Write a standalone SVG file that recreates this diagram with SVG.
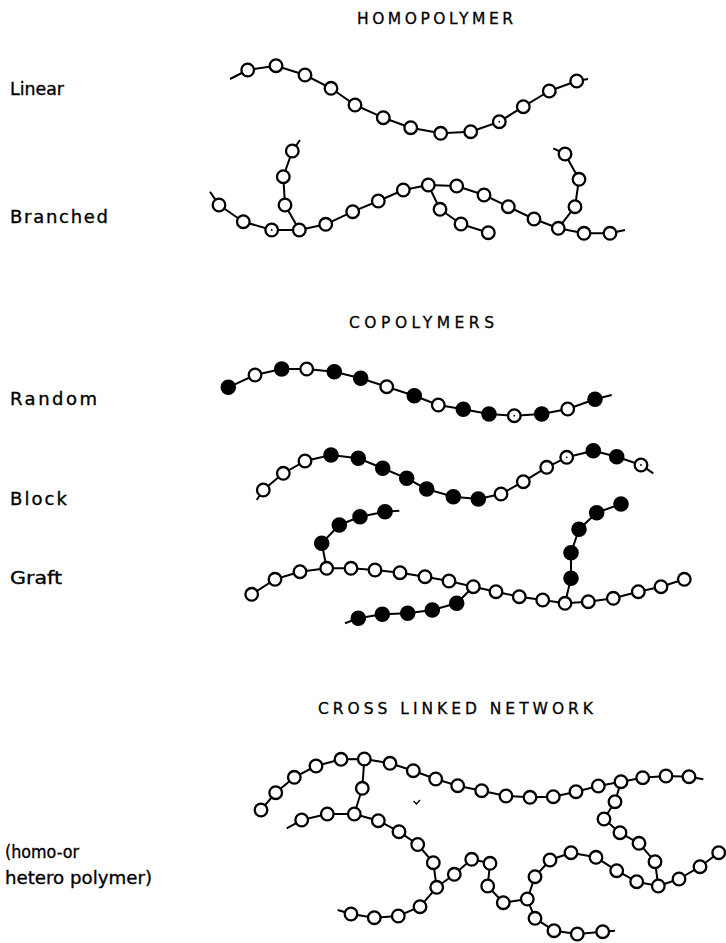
<svg xmlns="http://www.w3.org/2000/svg" width="726" height="943" viewBox="0 0 726 943">
<style>
.bond{fill:none;stroke:#000;stroke-width:2;stroke-linejoin:round}
.o{fill:#fff;stroke:#000;stroke-width:2.3}
.f{fill:#000;stroke:#000;stroke-width:2}
.dot{fill:#000}
.hd{font-family:"DejaVu Sans","Liberation Sans",Arial,sans-serif;font-size:15.5px;fill:#000;stroke:#000;stroke-width:0.3}
.lb{font-family:"DejaVu Sans","Liberation Sans",Arial,sans-serif;font-size:18px;fill:#000;stroke:#000;stroke-width:0.35}
</style>
<defs>
<circle id="O" r="6.3" class="o"/>
<circle id="F" r="6.8" class="f"/>
</defs>

<g id="labels">
<text class="hd" x="357" y="24" textLength="156" lengthAdjust="spacing">HOMOPOLYMER</text>
<text class="hd" x="349" y="328" textLength="145" lengthAdjust="spacing">COPOLYMERS</text>
<text class="hd" x="318" y="714" textLength="275" lengthAdjust="spacing">CROSS LINKED NETWORK</text>
<text class="lb" x="10" y="95" textLength="54" lengthAdjust="spacingAndGlyphs">Linear</text>
<text class="lb" x="10" y="223" textLength="98" lengthAdjust="spacing">Branched</text>
<text class="lb" x="10" y="405" textLength="87" lengthAdjust="spacing">Random</text>
<text class="lb" x="10" y="505" textLength="57" lengthAdjust="spacing">Block</text>
<text class="lb" x="10" y="584" textLength="52" lengthAdjust="spacingAndGlyphs">Graft</text>
<text class="lb" x="5" y="858" textLength="74" lengthAdjust="spacingAndGlyphs">(homo-or</text>
<text class="lb" x="5" y="884" textLength="147" lengthAdjust="spacingAndGlyphs">hetero polymer)</text>
</g>

<g id="connectors">
<!-- linear -->
<polyline class="bond" points="230,79 247.7,70 276,65.7 305,75 331,88.3 355,105 383.3,117.7 410.7,127.7 440.7,133.3 470.7,131.7 499.3,121.7 523.3,106.7 549.3,91 576.7,81 588,79"/>
<!-- branched -->
<polyline class="bond" points="210,191.7 219,205 243.3,221.7 271.7,230 299.3,230 325.7,224.3 352.7,211.7 378.3,201 403.3,190 428.3,185 456.7,186 484,195 508.3,206.7 534,219 558.3,228.3 584,233.3 610,233.3 625,230"/>
<polyline class="bond" points="299.3,230 285,205 283.3,176.7 292.3,151 300,140"/>
<polyline class="bond" points="428.3,185 440,209.3 461,224 488.3,232.7"/>
<polyline class="bond" points="558.3,228.3 575,206.7 579,179.3 565,154 553.3,148.3"/>
<!-- random -->
<polyline class="bond" points="228.3,387.3 255,375 281.7,369 306.7,369 334.3,371.7 360.7,378.3 386.7,386.7 414.3,395.7 438.3,405 463.3,409.3 489,414 514.3,415.7 541.7,414 567.7,409 595,399.3 611.7,395"/>
<!-- block -->
<polyline class="bond" points="256.7,500 263.3,490 283.3,473.3 305,461 331,455 358.3,458.3 382.7,468.3 406.7,478.3 426.7,489 453.3,496.7 478.3,499 501,494 523.3,481.7 546.7,467.3 566.7,457.3 593.3,450.7 616.7,456.7 641,465 653.3,473.3"/>
<!-- graft -->
<polyline class="bond" points="251.7,594.3 275,579.3 300,571.7 326.7,568.3 351,568.3 375,570 400,572.7 425,576.7 449,581 473.3,586.7 496,591.7 519.3,596.7 542.7,600 565,603.3 588.3,601.7 613.3,598.3 638.3,591.7 661,586.7 684.3,579.3"/>
<polyline class="bond" points="326.7,568.3 321.7,543.3 339.3,525 360,516.7 385,511.7 399.3,510.7"/>
<polyline class="bond" points="473.3,586.7 456.7,603.3 432.3,610 407.7,613.3 382.3,614.3 358.3,618.3 345,623.3"/>
<polyline class="bond" points="565,603.3 571,578.3 571,552.7 579,529.3 596.7,512.7 621,504"/>
<!-- network -->
<polyline class="bond" points="261,810 275.7,792.7 294.3,777.3 316,766 341,759.3 364.3,759 390,763.3 413.3,770.7 435.7,779 457.7,785.7 481.7,790.7 506,796 530,797.3 553.3,796.7 576,791.7 598.3,786 621,781.7 642.7,777.7 666,776 689,776.7 703.3,779.3"/>
<polyline class="bond" points="364.3,759 362.3,788.3 354.3,814"/>
<polyline class="bond" points="286.7,828.3 301.7,820 327.3,814 354.3,814 378.3,820.7 399,831.7 417.7,844.5 433.3,862.7 436.7,887.3 454.3,874.3 471.7,859.3 490,863.3 487.7,886 503.3,902.7 527.3,899 535,918.3 554,930.7 577.3,934 602.7,931.7 615,930.7"/>
<polyline class="bond" points="337.7,910 351,914 374.3,917.7 398.3,916 420,906.7 436.7,887.3"/>
<polyline class="bond" points="527.3,899 535,876.7 550,860 571,852.7 596,857.3 616.7,870.7 636.7,881.7 658.3,886 679,879 700,866.7 718.7,852.7"/>
<polyline class="bond" points="621,781.7 615,801.7 604,819 620,832.7 639,843.3 655,861.7 658.3,886"/>
</g>

<g id="linear">
<use href="#O" x="247.7" y="70"/><use href="#O" x="276" y="65.7"/><use href="#O" x="305" y="75"/><use href="#O" x="331" y="88.3"/><use href="#O" x="355" y="105"/><use href="#O" x="383.3" y="117.7"/><use href="#O" x="410.7" y="127.7"/><use href="#O" x="440.7" y="133.3"/><use href="#O" x="470.7" y="131.7"/><use href="#O" x="499.3" y="121.7"/><use href="#O" x="523.3" y="106.7"/><use href="#O" x="549.3" y="91"/><use href="#O" x="576.7" y="81"/>
<circle class="dot" cx="499.3" cy="121.7" r="0.9"/>
</g>

<g id="branched">
<use href="#O" x="219" y="205"/><use href="#O" x="243.3" y="221.7"/><use href="#O" x="271.7" y="230"/><use href="#O" x="299.3" y="230"/><use href="#O" x="325.7" y="224.3"/><use href="#O" x="352.7" y="211.7"/><use href="#O" x="378.3" y="201"/><use href="#O" x="403.3" y="190"/><use href="#O" x="428.3" y="185"/><use href="#O" x="456.7" y="186"/><use href="#O" x="484" y="195"/><use href="#O" x="508.3" y="206.7"/><use href="#O" x="534" y="219"/><use href="#O" x="558.3" y="228.3"/><use href="#O" x="584" y="233.3"/><use href="#O" x="610" y="233.3"/>
<use href="#O" x="285" y="205"/><use href="#O" x="283.3" y="176.7"/><use href="#O" x="292.3" y="151"/>
<use href="#O" x="440" y="209.3"/><use href="#O" x="461" y="224"/><use href="#O" x="488.3" y="232.7"/>
<use href="#O" x="575" y="206.7"/><use href="#O" x="579" y="179.3"/><use href="#O" x="565" y="154"/>
<circle class="dot" cx="271.7" cy="230" r="0.9"/>
</g>

<g id="random">
<use href="#F" x="228.3" y="387.3"/><use href="#O" x="255" y="375"/><use href="#F" x="281.7" y="369"/><use href="#O" x="306.7" y="369"/><use href="#F" x="334.3" y="371.7"/><use href="#F" x="360.7" y="378.3"/><use href="#O" x="386.7" y="386.7"/><use href="#F" x="414.3" y="395.7"/><use href="#O" x="438.3" y="405"/><use href="#F" x="463.3" y="409.3"/><use href="#F" x="489" y="414"/><use href="#O" x="514.3" y="415.7"/><use href="#F" x="541.7" y="414"/><use href="#O" x="567.7" y="409"/><use href="#F" x="595" y="399.3"/>
<circle class="dot" cx="514.3" cy="415.7" r="0.9"/>
</g>

<g id="block">
<use href="#O" x="263.3" y="490"/><use href="#O" x="283.3" y="473.3"/><use href="#O" x="305" y="461"/><use href="#F" x="331" y="455"/><use href="#F" x="358.3" y="458.3"/><use href="#F" x="382.7" y="468.3"/><use href="#F" x="406.7" y="478.3"/><use href="#F" x="426.7" y="489"/><use href="#F" x="453.3" y="496.7"/><use href="#F" x="478.3" y="499"/><use href="#O" x="501" y="494"/><use href="#O" x="523.3" y="481.7"/><use href="#O" x="546.7" y="467.3"/><use href="#O" x="566.7" y="457.3"/><use href="#F" x="593.3" y="450.7"/><use href="#F" x="616.7" y="456.7"/><use href="#O" x="641" y="465"/>
<circle class="dot" cx="566.7" cy="457.3" r="0.9"/><circle class="dot" cx="641" cy="465" r="0.9"/>
</g>

<g id="graft">
<use href="#O" x="251.7" y="594.3"/><use href="#O" x="275" y="579.3"/><use href="#O" x="300" y="571.7"/><use href="#O" x="326.7" y="568.3"/><use href="#O" x="351" y="568.3"/><use href="#O" x="375" y="570"/><use href="#O" x="400" y="572.7"/><use href="#O" x="425" y="576.7"/><use href="#O" x="449" y="581"/><use href="#O" x="473.3" y="586.7"/><use href="#O" x="496" y="591.7"/><use href="#O" x="519.3" y="596.7"/><use href="#O" x="542.7" y="600"/><use href="#O" x="565" y="603.3"/><use href="#O" x="588.3" y="601.7"/><use href="#O" x="613.3" y="598.3"/><use href="#O" x="638.3" y="591.7"/><use href="#O" x="661" y="586.7"/><use href="#O" x="684.3" y="579.3"/>
<use href="#F" x="321.7" y="543.3"/><use href="#F" x="339.3" y="525"/><use href="#F" x="360" y="516.7"/><use href="#F" x="385" y="511.7"/>
<use href="#F" x="456.7" y="603.3"/><use href="#F" x="432.3" y="610"/><use href="#F" x="407.7" y="613.3"/><use href="#F" x="382.3" y="614.3"/><use href="#F" x="358.3" y="618.3"/>
<use href="#F" x="571" y="578.3"/><use href="#F" x="571" y="552.7"/><use href="#F" x="579" y="529.3"/><use href="#F" x="596.7" y="512.7"/><use href="#F" x="621" y="504"/>
</g>

<g id="network">
<use href="#O" x="261" y="810"/><use href="#O" x="275.7" y="792.7"/><use href="#O" x="294.3" y="777.3"/><use href="#O" x="316" y="766"/><use href="#O" x="341" y="759.3"/><use href="#O" x="364.3" y="759"/><use href="#O" x="390" y="763.3"/><use href="#O" x="413.3" y="770.7"/><use href="#O" x="435.7" y="779"/><use href="#O" x="457.7" y="785.7"/><use href="#O" x="481.7" y="790.7"/><use href="#O" x="506" y="796"/><use href="#O" x="530" y="797.3"/><use href="#O" x="553.3" y="796.7"/><use href="#O" x="576" y="791.7"/><use href="#O" x="598.3" y="786"/><use href="#O" x="621" y="781.7"/><use href="#O" x="642.7" y="777.7"/><use href="#O" x="666" y="776"/><use href="#O" x="689" y="776.7"/>
<use href="#O" x="362.3" y="788.3"/>
<use href="#O" x="301.7" y="820"/><use href="#O" x="327.3" y="814"/><use href="#O" x="354.3" y="814"/><use href="#O" x="378.3" y="820.7"/><use href="#O" x="399" y="831.7"/><use href="#O" x="417.7" y="844.5"/><use href="#O" x="433.3" y="862.7"/><use href="#O" x="436.7" y="887.3"/><use href="#O" x="454.3" y="874.3"/><use href="#O" x="471.7" y="859.3"/><use href="#O" x="490" y="863.3"/><use href="#O" x="487.7" y="886"/><use href="#O" x="503.3" y="902.7"/><use href="#O" x="527.3" y="899"/><use href="#O" x="535" y="918.3"/><use href="#O" x="554" y="930.7"/><use href="#O" x="577.3" y="934"/><use href="#O" x="602.7" y="931.7"/>
<use href="#O" x="351" y="914"/><use href="#O" x="374.3" y="917.7"/><use href="#O" x="398.3" y="916"/><use href="#O" x="420" y="906.7"/>
<use href="#O" x="535" y="876.7"/><use href="#O" x="550" y="860"/><use href="#O" x="571" y="852.7"/><use href="#O" x="596" y="857.3"/><use href="#O" x="616.7" y="870.7"/><use href="#O" x="636.7" y="881.7"/><use href="#O" x="658.3" y="886"/><use href="#O" x="679" y="879"/><use href="#O" x="700" y="866.7"/><use href="#O" x="718.7" y="852.7"/>
<use href="#O" x="615" y="801.7"/><use href="#O" x="604" y="819"/><use href="#O" x="620" y="832.7"/><use href="#O" x="639" y="843.3"/><use href="#O" x="655" y="861.7"/>
<path d="M413.5,801 L416.5,804 L420,800" fill="none" stroke="#000" stroke-width="1.3"/>
</g>
</svg>
